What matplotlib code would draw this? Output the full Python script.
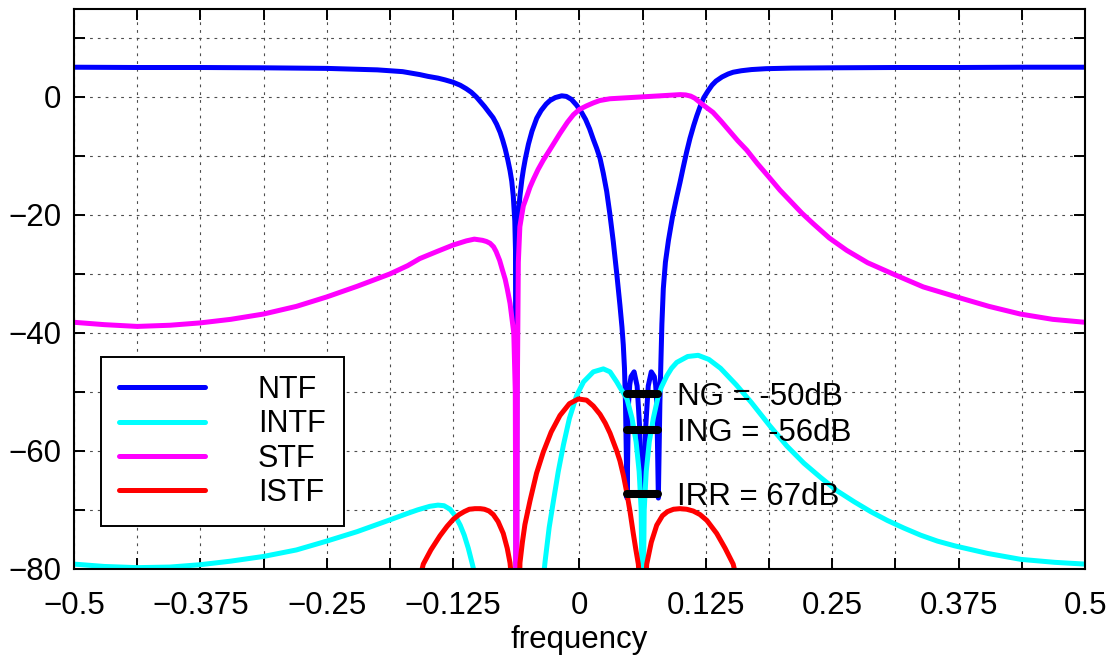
import numpy as np
import matplotlib
matplotlib.use("Agg")
import matplotlib.pyplot as plt

plt.rcParams['font.family'] = ['Liberation Sans', 'DejaVu Sans']

# ---------------- data ----------------
ntf_f = [-0.5, -0.4375, -0.375, -0.3125, -0.25, -0.2, -0.175, -0.158, -0.15, -0.14,
         -0.133, -0.125, -0.118, -0.112, -0.107, -0.102, -0.098, -0.094, -0.09, -0.0855,
         -0.082, -0.0785, -0.076, -0.0735, -0.071, -0.0687, -0.067, -0.0655, -0.064,
         -0.0633, -0.0625, -0.0617, -0.0608, -0.06, -0.0589, -0.057, -0.0555, -0.0535,
         -0.0505, -0.047, -0.0423, -0.038, -0.033, -0.0292, -0.024, -0.0176, -0.013,
         -0.008, -0.0028, 0.002, 0.006, 0.010, 0.0137, 0.017, 0.0203, 0.0235, 0.0269,
         0.030, 0.0334, 0.037, 0.040, 0.042, 0.0433, 0.0445, 0.0455, 0.047, 0.0485,
         0.0497, 0.051, 0.054, 0.057, 0.0595, 0.0625, 0.0655, 0.068, 0.071, 0.074,
         0.0753, 0.0765, 0.078, 0.0795, 0.0805, 0.0815, 0.0829, 0.085, 0.088, 0.092,
         0.0961, 0.0994, 0.1025, 0.106, 0.1093, 0.113, 0.116, 0.12, 0.123, 0.127,
         0.131, 0.135, 0.141, 0.147, 0.152, 0.16, 0.17, 0.1845, 0.21, 0.25, 0.3125,
         0.375, 0.4375, 0.5]
ntf_db = [5.05, 5.0, 5.0, 4.95, 4.85, 4.6, 4.3, 3.8, 3.5, 3.2,
          2.9, 2.5, 2.0, 1.4, 0.8, 0.0, -0.8, -1.6, -2.5, -3.5,
          -4.6, -6.0, -7.3, -8.8, -10.6, -12.5, -14.3, -16.8, -21,
          -26, -110, -26, -21, -18.8, -16.8, -14.0, -12.3, -10.4,
          -8.0, -5.8, -3.6, -2.3, -1.2, -0.6, -0.1, 0.2, 0.1,
          -0.4, -1.4, -2.6, -3.8, -5.4, -7.2, -8.7, -10.4, -12.9, -16.0,
          -19.8, -24.5, -30.2, -35.3, -39, -42, -46, -52, -68, -52,
          -48.8, -47.4, -46.6, -49, -56, -75, -56, -49, -46.6, -47.4,
          -48.8, -52, -68, -52, -45, -38.5, -32.5, -28, -24.3, -20.3,
          -17, -14.5, -12, -9.3, -7.0, -4.8, -3.2, -1.3, -0.1, 1.0,
          2.0, 2.7, 3.4, 3.9, 4.2, 4.45, 4.65, 4.8, 4.9, 4.95, 5.0,
          5.0, 5.05, 5.05]

intf_f = [-0.5, -0.47, -0.4375, -0.405, -0.375, -0.345, -0.3125, -0.28, -0.25, -0.22,
          -0.1875, -0.17, -0.16, -0.148, -0.14, -0.134, -0.128, -0.123, -0.118, -0.114,
          -0.11, -0.106, -0.102, -0.09, -0.07, -0.045, -0.036, -0.034, -0.03, -0.0258,
          -0.021, -0.0159, -0.01, -0.0028, 0.004, 0.0137, 0.0236, 0.0302, 0.0368, 0.0402,
          0.0435, 0.047, 0.052, 0.056, 0.059, 0.061, 0.0625, 0.064, 0.066, 0.069,
          0.073, 0.0775, 0.081, 0.0863, 0.091, 0.0962, 0.107, 0.1174, 0.128, 0.1395,
          0.155, 0.170, 0.188, 0.2052, 0.222, 0.2384, 0.255, 0.2714, 0.288, 0.3045,
          0.321, 0.3375, 0.354, 0.371, 0.404, 0.4367, 0.47, 0.5]
intf_db = [-79.2, -79.6, -79.8, -79.7, -79.3, -78.7, -77.9, -76.8, -75.3, -73.7,
           -71.7, -70.6, -70.0, -69.4, -69.2, -69.3, -69.9, -71.0, -72.6, -74.3,
           -76.5, -79.2, -82, -90, -95, -95, -82, -78.7, -73, -68.5,
           -63.5, -59, -54.5, -50.6, -48.3, -46.6, -46.1, -46.6, -48.3, -49.3,
           -50.2, -51.2, -54.5, -58.5, -63.5, -70, -95, -70, -63.5, -58.5,
           -54.5, -51, -49.2, -47.3, -46.0, -45.0, -44.0, -43.8, -44.5, -46.0,
           -48.8, -51.8, -55.7, -59.2, -62.1, -64.5, -66.8, -68.6, -70.3, -71.8,
           -73.1, -74.3, -75.3, -76.1, -77.4, -78.4, -78.9, -79.2]

stf_f = [-0.5, -0.47, -0.4375, -0.405, -0.375, -0.345, -0.3125, -0.28, -0.25, -0.22,
         -0.1875, -0.17, -0.158, -0.141, -0.125, -0.112, -0.104, -0.096, -0.092, -0.0885,
         -0.085, -0.0825, -0.079, -0.0763, -0.0735, -0.0715, -0.0687, -0.065, -0.0635,
         -0.0625, -0.0615, -0.0605, -0.059, -0.0556, -0.052, -0.049, -0.0457, -0.041,
         -0.0358, -0.031, -0.0259, -0.0194, -0.012, -0.006, 0.0, 0.007, 0.0137, 0.02,
         0.03, 0.04, 0.06, 0.08, 0.0995, 0.105, 0.11, 0.114, 0.119, 0.125, 0.132, 0.14,
         0.148, 0.1565, 0.1654, 0.176, 0.187, 0.1983, 0.21, 0.22, 0.2313, 0.247, 0.2643,
         0.285, 0.31, 0.34, 0.373, 0.405, 0.436, 0.468, 0.5]
stf_db = [-38.2, -38.6, -38.9, -38.7, -38.3, -37.7, -36.8, -35.5, -33.9, -32.1,
          -30.0, -28.6, -27.4, -26.2, -25.1, -24.4, -24.1, -24.3, -24.5, -24.8,
          -25.4, -26.2, -27.7, -29.3, -30.9, -32.5, -35.0, -40, -50,
          -110, -50, -28, -22, -18.5, -16.8, -15.3, -14.0, -12.3,
          -10.7, -9.4, -8.0, -6.2, -4.3, -3.0, -2.1, -1.5, -1.0, -0.6,
          -0.3, -0.2, 0.0, 0.2, 0.4, 0.35, 0.15, -0.2, -0.9, -1.7, -2.6, -4.1,
          -5.7, -7.4, -9.0, -11.3, -13.5, -15.8, -17.9, -19.7, -21.5, -23.9, -26.0,
          -28.1, -30.0, -32.2, -33.9, -35.5, -36.8, -37.7, -38.2]

istf_f = [-0.1585, -0.1545, -0.147, -0.138, -0.131, -0.1248, -0.119, -0.114, -0.109,
          -0.1034, -0.098, -0.094, -0.0895, -0.0853, -0.0805, -0.0754, -0.0715, -0.0687,
          -0.0655, -0.0625, -0.0595, -0.0589, -0.0565, -0.054, -0.049, -0.0425, -0.0358,
          -0.028, -0.0193, -0.010, -0.0012, 0.007, 0.0137, 0.0203, 0.0255, 0.0302,
          0.0368, 0.040, 0.0435, 0.0467, 0.050, 0.0532, 0.0558, 0.0582, 0.0605, 0.0625,
          0.0645, 0.0665, 0.071, 0.0764, 0.082, 0.087, 0.093, 0.0994, 0.106, 0.1125,
          0.1192, 0.126, 0.1357, 0.144, 0.152, 0.156]
istf_db = [-82, -79.2, -76.8, -74.4, -72.8, -71.6, -70.8, -70.3, -69.9,
           -69.8, -69.8, -69.9, -70.2, -70.8, -72.0, -74.0, -76.5, -79.0,
           -85, -115, -85, -79.0, -75.5, -72.5, -68.5, -63.8, -60.2,
           -56.8, -54.0, -52.0, -51.2, -51.4, -52.4, -53.8, -55.3, -57.0,
           -60.0, -61.7, -64.2, -67.0, -70.3, -74.0, -76.8, -79.2, -85, -115,
           -85, -79.2, -75.5, -72.6, -71.0, -70.3, -69.9, -69.8, -69.9, -70.2,
           -70.8, -71.8, -74.0, -76.5, -79.2, -82]

series_labels = ['NTF', 'INTF', 'STF', 'ISTF']
series_colors = ['#0000ff', '#00ffff', '#ff00ff', '#ff0000']

band_f = [0.046875, 0.078125]
band_levels = [-50.3, -56.4, -67.3]
band_texts = ['NG = -50dB', 'ING = -56dB', 'IRR = 67dB']

xtick_pos = [-0.5, -0.4375, -0.375, -0.3125, -0.25, -0.1875, -0.125, -0.0625, 0.0,
             0.0625, 0.125, 0.1875, 0.25, 0.3125, 0.375, 0.4375, 0.5]
xtick_lab = ['\u22120.5', '', '\u22120.375', '', '\u22120.25', '', '\u22120.125', '', '0',
             '', '0.125', '', '0.25', '', '0.375', '', '0.5']
ytick_pos = [-80, -70, -60, -50, -40, -30, -20, -10, 0, 10]
ytick_lab = ['\u221280', '', '\u221260', '', '\u221240', '', '\u221220', '', '0', '']

# ---------------- figure ----------------
fig = plt.figure(figsize=(11.11, 6.56), dpi=100)
ax = fig.add_axes([0.0666, 0.1329, 0.9100, 0.8541])

lw = 3.6
series = [(ntf_f, ntf_db), (intf_f, intf_db), (stf_f, stf_db), (istf_f, istf_db)]
for (f, d), lab, col in zip(series, series_labels, series_colors):
    ax.plot(f, d, color=col, lw=lw, label=lab, solid_joinstyle='round',
            solid_capstyle='butt')

for lev, txt in zip(band_levels, band_texts):
    ax.plot(band_f, [lev, lev], color='black', lw=5.8, solid_capstyle='round')
    ax.annotate(txt, xy=(0.0964, lev), xytext=(0, -8), textcoords='offset points',
                fontsize=22.5, va='baseline', ha='left')

ax.set_xlim(-0.5, 0.5)
ax.set_ylim(-80, 15)
ax.set_xticks(xtick_pos)
ax.set_xticklabels(xtick_lab)
ax.set_yticks(ytick_pos)
ax.set_yticklabels(ytick_lab)
ax.tick_params(direction='in', length=8, width=1.4, top=True, right=True,
               labelsize=22.5)
ax.tick_params(axis='x', pad=16)
ax.tick_params(axis='y', pad=9)
ax.grid(True, color='0.3', linestyle=(0, (2.5, 4.5)), linewidth=0.8)
for sp in ax.spines.values():
    sp.set_linewidth(1.5)
ax.set_xlabel('frequency', fontsize=22.5, labelpad=3)

leg = ax.legend(loc='upper left', bbox_to_anchor=(0.0267, 0.3785), fontsize=22,
                frameon=True, fancybox=False, edgecolor='black', framealpha=1,
                handlelength=2.8, handletextpad=1.73, labelspacing=0.14,
                borderpad=0.6, borderaxespad=0)
leg.get_frame().set_linewidth(1.4)
for h in leg.get_lines():
    h.set_solid_capstyle('round')

fig.savefig('out.png', dpi=100)
